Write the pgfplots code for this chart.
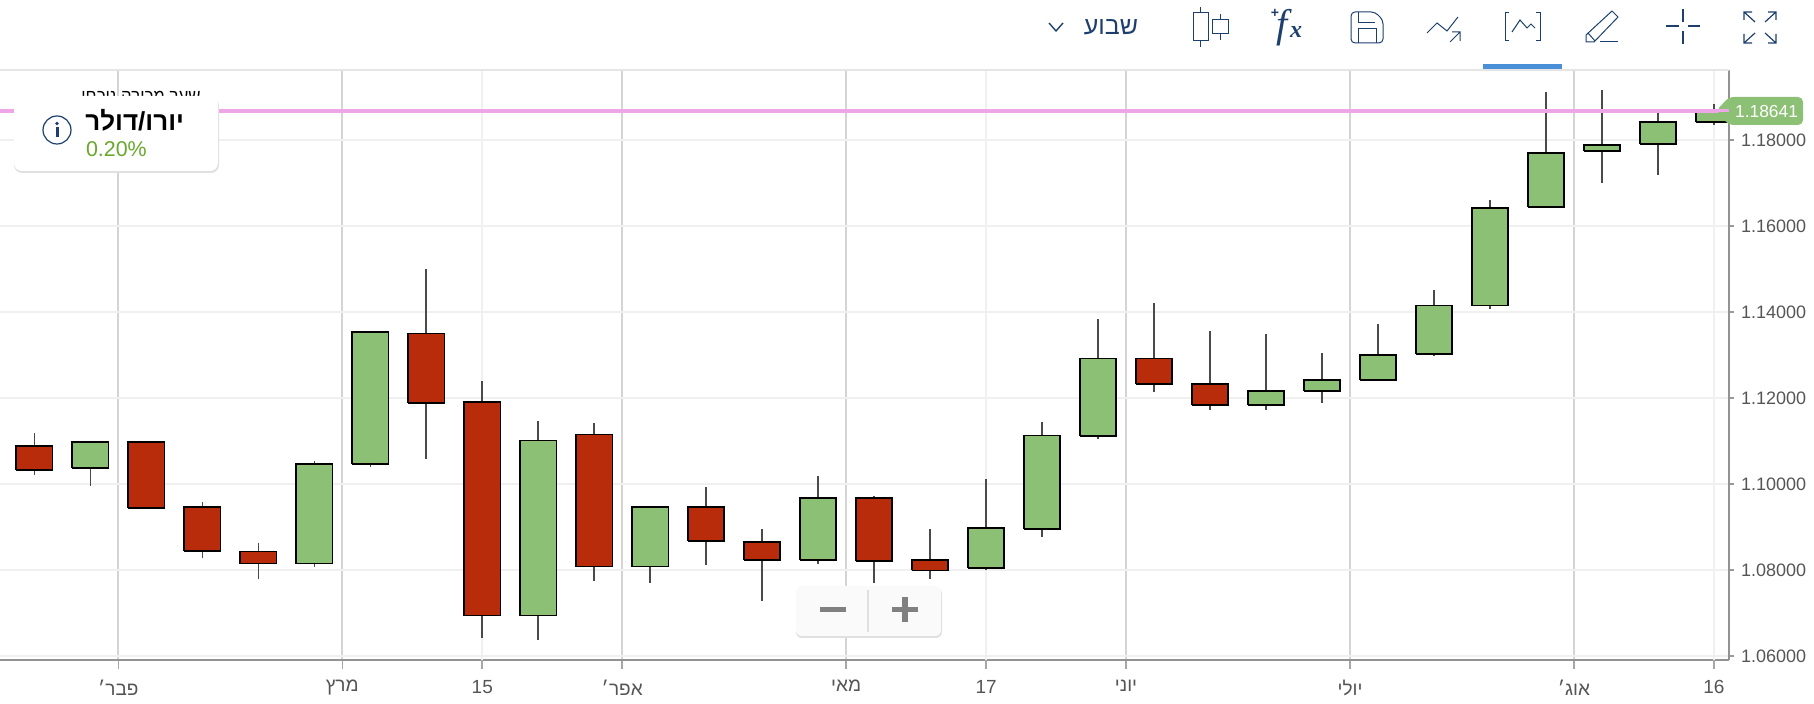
\documentclass[border=0pt]{standalone}
\usepackage{fontspec}
\usepackage{pgfplots}
\pgfplotsset{compat=1.18}
\setmainfont{Liberation Sans}
\newfontfamily\heb[Script=Hebrew]{Liberation Sans}
\newfontfamily\fxfont{Liberation Serif}
\TeXXeTstate=1
\definecolor{cg}{HTML}{8CC074}
\definecolor{cr}{HTML}{B82C0C}
\definecolor{wick}{HTML}{4A4A4A}
\definecolor{navy}{HTML}{1D3F6E}
\definecolor{txt}{HTML}{555555}
\definecolor{pinkl}{HTML}{EFA6E8}
\definecolor{tabblue}{HTML}{4A90D9}
\definecolor{pct}{HTML}{69A82C}
\newcommand\R[1]{{\heb\beginR #1\endR}}
% x, low, body low, body high, high, colour
\newcommand\candle[6]{%
  \pgfmathsetmacro\xa{#1-0.325}\pgfmathsetmacro\xb{#1+0.325}%
  \edef\temp{\noexpand\addplot[draw=wick,line width=0.8pt,forget plot] coordinates {(#1,#2)(#1,#5)};
    \noexpand\addplot[fill=#6,draw=black,line width=0.9pt,line join=miter,forget plot]
    coordinates {(\xa,#3)(\xb,#3)(\xb,#4)(\xa,#4)(\xa,#3)};}%
  \temp}
\begin{document}
\begin{tikzpicture}
\useasboundingbox (0,0) rectangle (907pt,352pt);
\begin{axis}[
  at={(0pt,22pt)},anchor=south west,scale only axis,
  width=864.5pt,height=295pt,
  xmin=-0.6145,xmax=30.27,ymin=1.05907,ymax=1.19628,
  axis x line*=bottom,axis y line*=right,
  axis line style={draw=gray!85,line width=0.8pt,-},
  xtick={1.5,5.5,10.5,14.5,19.5,23.5,27.5},
  xticklabels={\R{פבר׳},\R{מרץ},\R{אפר׳},\R{מאי},\R{יוני},\R{יולי},\R{אוג׳}},
  extra x ticks={8,17,30},
  extra x tick labels={15,17,16},
  extra x tick style={xmajorgrids=true,x grid style={draw=black!6,line width=0.9pt}},
  ytick={1.06,1.08,1.10,1.12,1.14,1.16,1.18},
  yticklabel pos=right,
  /pgf/number format/fixed,
  /pgf/number format/fixed zerofill,
  /pgf/number format/precision=5,
  /pgf/number format/assume math mode=true,
  grid=major,
  y grid style={draw=black!6,line width=0.8pt},
  x grid style={draw=black!17,line width=1pt},
  xtick style={draw=black!35,line width=0.8pt},
  ytick style={draw=black!40,line width=0.6pt,/pgfplots/major tick length=2.5pt},
  major tick length=4.5pt,
  tick align=outside,
  tick label style={font=\fontsize{9}{10}\selectfont,text=txt},
  xticklabel style={yshift=-2pt,font=\fontsize{9.5}{10}\selectfont},
  yticklabel style={xshift=-2pt},
]
\candle{0}{1.1022}{1.1033}{1.1089}{1.1119}{cr}
\candle{1}{1.0996}{1.1037}{1.1098}{1.1098}{cg}
\candle{2}{1.0945}{1.0945}{1.1098}{1.1098}{cr}
\candle{3}{1.0829}{1.0845}{1.0947}{1.0958}{cr}
\candle{4}{1.0779}{1.0815}{1.0843}{1.0862}{cr}
\candle{5}{1.0808}{1.0815}{1.1047}{1.1054}{cg}
\candle{6}{1.1039}{1.1047}{1.1354}{1.1354}{cg}
\candle{7}{1.1059}{1.1188}{1.1350}{1.1499}{cr}
\candle{8}{1.0641}{1.0694}{1.1190}{1.1239}{cr}
\candle{9}{1.0637}{1.0694}{1.1101}{1.1147}{cg}
\candle{10}{1.0775}{1.0808}{1.1115}{1.1142}{cr}
\candle{11}{1.0770}{1.0808}{1.0947}{1.0947}{cg}
\candle{12}{1.0812}{1.0867}{1.0947}{1.0992}{cr}
\candle{13}{1.0729}{1.0823}{1.0866}{1.0895}{cr}
\candle{14}{1.0815}{1.0823}{1.0968}{1.1019}{cg}
\candle{15}{1.0769}{1.0820}{1.0968}{1.0973}{cr}
\candle{16}{1.0780}{1.0799}{1.0823}{1.0895}{cr}
\candle{17}{1.0799}{1.0804}{1.0898}{1.1011}{cg}
\candle{18}{1.0877}{1.0895}{1.1113}{1.1144}{cg}
\candle{19}{1.1105}{1.1112}{1.1292}{1.1384}{cg}
\candle{20}{1.1213}{1.1233}{1.1292}{1.1421}{cr}
\candle{21}{1.1173}{1.1183}{1.1233}{1.1355}{cr}
\candle{22}{1.1173}{1.1183}{1.1217}{1.1349}{cg}
\candle{23}{1.1188}{1.1216}{1.1242}{1.1304}{cg}
\candle{24}{1.1240}{1.1242}{1.1300}{1.1371}{cg}
\candle{25}{1.1298}{1.1303}{1.1415}{1.1451}{cg}
\candle{26}{1.1407}{1.1415}{1.1641}{1.1660}{cg}
\candle{27}{1.1641}{1.1644}{1.1770}{1.1912}{cg}
\candle{28}{1.1699}{1.1774}{1.1788}{1.1916}{cg}
\candle{29}{1.1718}{1.1791}{1.1841}{1.1862}{cg}
\candle{30}{1.1835}{1.1841}{1.1866}{1.1883}{cg}
\addplot[draw=black!10,line width=1pt,forget plot] coordinates {(-0.6145,1.19628)(30.27,1.19628)};
\addplot[draw=pinkl,line width=1.7pt,forget plot] coordinates {(-0.6145,1.1867)(30.27,1.1867)};
\end{axis}
\begin{scope}[x=0.5pt,y=-0.5pt,yshift=352pt]
% blue tab underline
\fill[tabblue] (1483,64.5) rectangle (1562,69.5);
% clipped caption + panel
\node[font=\fontsize{8.4}{9}\selectfont,text=black] at (141,97) {\R{שער מכירה נוכחי}};
\fill[black!12,rounded corners=4pt] (14,98) rectangle (219,173);
\fill[white,rounded corners=4pt] (14,96) rectangle (218,171);
\draw[navy,line width=0.6pt] (57,130) circle (14);
\fill[navy] (57,123.5) circle (1.8);
\fill[navy] (55.5,127.5) rectangle (58.5,137.5);
\node[anchor=east] at (191,120) {\fontsize{13}{14}\selectfont\R{\bfseries יורו/דולר}};
\node[anchor=west,font=\fontsize{10.7}{11}\selectfont,text=pct] at (79,149) {0.20\%};
% price tag
\fill[cg,rounded corners=2.5pt] (1716,111) -- (1729,97) -- (1803,97) -- (1803,125) -- (1729,125) -- cycle;
\draw[pinkl,line width=1.7pt] (1714,110.7) -- (1729,110.7);
\node[font=\fontsize{8.7}{10}\selectfont,text=white] at (1766.5,111.5) {1.18641};
% zoom buttons
\fill[black!12,rounded corners=3pt] (796,588) rectangle (942,638);
\fill[black!2,rounded corners=3pt] (796,586) rectangle (941,636);
\draw[black!12,line width=0.6pt] (868,590) -- (868,632);
\draw[black!50,line width=2.6pt] (820,609.5) -- (846,609.5);
\draw[black!50,line width=2.6pt] (892,609.5) -- (918,609.5) (905,597) -- (905,622);
% toolbar
\begin{scope}[navy,line width=0.5pt]
% candles
\draw (1193,13) rectangle (1208,41) (1200.5,7) -- (1200.5,13) (1200.5,41) -- (1200.5,47);
\draw (1212,20) rectangle (1228,34) (1220,14) -- (1220,20) (1220,34) -- (1220,40);
% save
\draw[rounded corners=2pt] (1351,12) -- (1375,12) -- (1383,20) -- (1383,43) -- (1351,43) -- cycle;
\draw (1358,12) -- (1358,23) -- (1375,23) (1358,43) -- (1358,29) -- (1376,29) -- (1376,43);
% trend
\draw (1427,33) -- (1437,23) -- (1447,31) -- (1458,17);
\draw (1450,42) -- (1460,32) (1452,32) -- (1460,32) -- (1460,41);
% bracket chart
\draw (1509,13) -- (1505,13) -- (1505,41) -- (1509,41);
\draw (1536,13) -- (1540,13) -- (1540,41) -- (1536,41);
\draw (1512,32) -- (1520,20) -- (1527,28) -- (1531,24) -- (1535,28);
% pencil
\draw (1586,35) -- (1612,11) -- (1618,17) -- (1594,42) -- (1586,42) -- cycle (1588,33) -- (1595,41);
\draw (1600,42) -- (1618,42);
% crosshair
\draw[line width=0.6pt] (1683,9) -- (1683,22) (1683,31) -- (1683,44) (1666,26) -- (1679,26) (1688,26) -- (1700,26);
% expand
\draw[line width=0.6pt] (1744,20) -- (1744,12) -- (1752,12) (1744,12) -- (1755,22);
\draw[line width=0.6pt] (1776,20) -- (1776,12) -- (1768,12) (1776,12) -- (1765,22);
\draw[line width=0.6pt] (1744,34) -- (1744,43) -- (1752,43) (1744,43) -- (1755,33);
\draw[line width=0.6pt] (1776,34) -- (1776,43) -- (1768,43) (1776,43) -- (1765,33);
% chevron
\draw[line width=0.7pt] (1049,23) -- (1056,31) -- (1063,23);
\end{scope}
\node[font=\fontsize{12.5}{13}\selectfont,text=navy] at (1111,27) {\R{שבוע}};
\node[text=navy,anchor=base] at (1282,38) {\fontsize{20}{21}\selectfont\fxfont\itshape f};
\node[text=navy,anchor=base] at (1296,38) {\fontsize{12}{13}\selectfont\fxfont\itshape\bfseries x};
\node[font=\fontsize{7}{8}\selectfont\bfseries,text=navy] at (1275,13) {+};
\end{scope}
\end{tikzpicture}
\end{document}
